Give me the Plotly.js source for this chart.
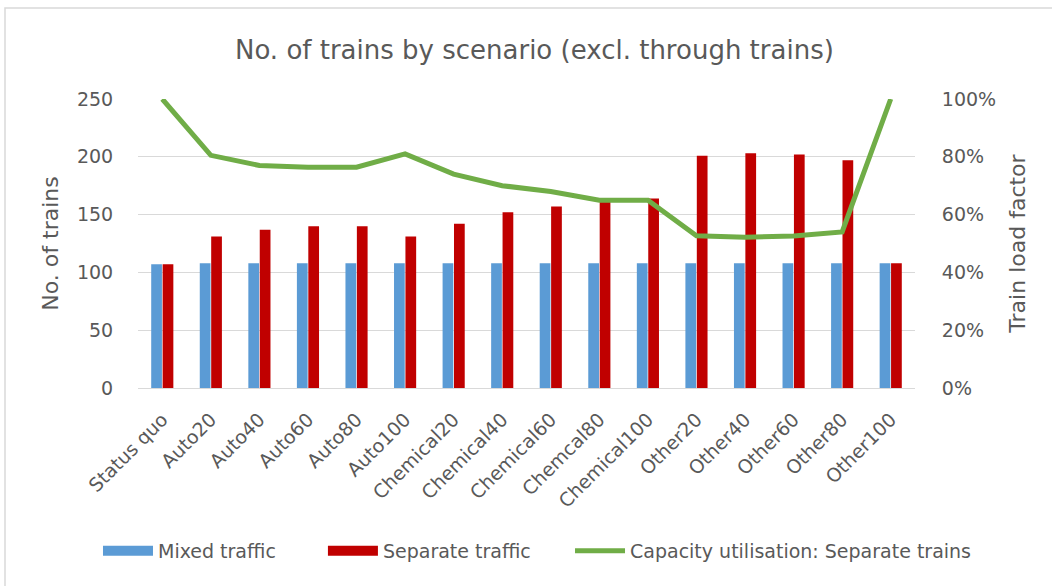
<!DOCTYPE html>
<html>
<head>
<meta charset="utf-8">
<script src="https://cdn.plot.ly/plotly-3.0.1.min.js"></script>
<style>html,body{margin:0;padding:0;background:#fff;}#chart{width:1052px;height:586px;}</style>
</head>
<body>
<div id="chart"></div>
<script>
const categories = ["Status quo","Auto20","Auto40","Auto60","Auto80","Auto100","Chemical20","Chemical40","Chemical60","Chemcal80","Chemical100","Other20","Other40","Other60","Other80","Other100"];
const mixedTraffic = [107,108,108,108,108,108,108,108,108,108,108,108,108,108,108,108];
const separateTraffic = [107,131,137,140,140,131,142,152,157,161,164,201,203,202,197,108];
const capacityUtilisation = [1.00,0.805,0.77,0.764,0.764,0.81,0.74,0.70,0.68,0.65,0.65,0.527,0.522,0.526,0.54,1.00];
const leftTicks = [0,50,100,150,200,250];
const rightTicks = [0,0.2,0.4,0.6,0.8,1.0];
const seriesNames = ["Mixed traffic","Separate traffic","Capacity utilisation: Separate trains"];
const seriesColors = ["#5B9BD5","#C00000","#70AD47"];

const FONT = "'DejaVu Sans', Verdana, sans-serif";
const GREY = "#595959";

const traces = [
  {type:"bar", name:seriesNames[0], x:categories, y:mixedTraffic, marker:{color:seriesColors[0]}, showlegend:false},
  {type:"bar", name:seriesNames[1], x:categories, y:separateTraffic, marker:{color:seriesColors[1]}, showlegend:false},
  {type:"scatter", mode:"lines", name:seriesNames[2], x:categories, y:capacityUtilisation, yaxis:"y2", line:{color:seriesColors[2], width:5}, showlegend:false},
  // legend entries (Excel-style wide swatches), one legend box each for Excel-like spacing
  {type:"scatter", mode:"lines", name:seriesNames[0], x:[null], y:[null], line:{color:seriesColors[0], width:12}, legend:"legend"},
  {type:"scatter", mode:"lines", name:seriesNames[1], x:[null], y:[null], line:{color:seriesColors[1], width:12}, legend:"legend2"},
  {type:"scatter", mode:"lines", name:seriesNames[2], x:[null], y:[null], line:{color:seriesColors[2], width:5}, legend:"legend3"}
];

function legendAt(x) {
  return {orientation:"h", x:x, xanchor:"left", y:-0.564, yanchor:"middle", font:{size:19, color:GREY, family:FONT}, itemwidth:50, bgcolor:"rgba(0,0,0,0)"};
}

const layout = {
  width:1052, height:586,
  margin:{l:138, r:137, t:99, b:198},
  paper_bgcolor:"#fff", plot_bgcolor:"#fff",
  font:{family:FONT, color:GREY, size:16},
  title:{text:"No. of trains by scenario (excl. through trains)", font:{size:26, color:GREY, family:FONT}, x:0.508, xanchor:"center", y:0.915, yanchor:"middle"},
  barmode:"group", bargap:0.53, bargroupgap:0.06,
  showlegend:true,
  legend:legendAt(-0.0515),
  legend2:legendAt(0.238),
  legend3:legendAt(0.556),
  xaxis:{tickangle:-45, tickfont:{size:19, color:GREY}, showgrid:false, showline:true, linecolor:"#D9D9D9", linewidth:1,
         ticks:"outside", ticklen:12, tickcolor:"rgba(0,0,0,0)", automargin:false},
  yaxis:{range:[0,250], tickvals:leftTicks, tickfont:{size:19, color:GREY}, showgrid:true, gridcolor:"#D9D9D9", gridwidth:1, zeroline:false, showline:false,
         ticks:"outside", ticklen:20, tickcolor:"rgba(0,0,0,0)",
         title:{text:"No. of trains", font:{size:22, color:GREY}, standoff:12}, automargin:false},
  yaxis2:{overlaying:"y", side:"right", range:[0,1], tickvals:rightTicks, tickformat:".0%", tickfont:{size:19, color:GREY}, showgrid:false, zeroline:false, showline:false,
          ticks:"outside", ticklen:22, tickcolor:"rgba(0,0,0,0)",
          title:{text:"Train load factor", font:{size:22, color:GREY}, standoff:14}, automargin:false},
  shapes:[{type:"rect", xref:"paper", yref:"paper", x0:-133/777, x1:1200/777, y0:(388-1000)/289, y1:(388-8)/289, line:{color:"#D9D9D9", width:1.5}, fillcolor:"rgba(0,0,0,0)", layer:"below"}]
};

Plotly.newPlot("chart", traces, layout, {displayModeBar:false, staticPlot:true});
</script>
</body>
</html>
